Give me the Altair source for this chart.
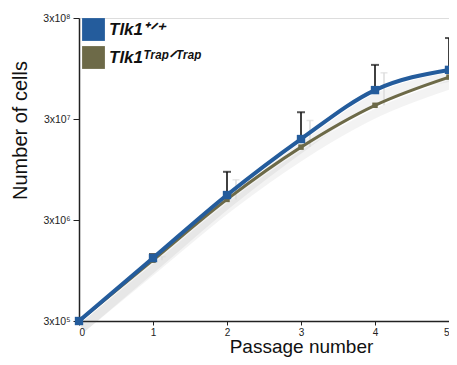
import altair as alt
import pandas as pd

passage = [0, 1, 2, 3, 4, 5]
wt_cells = [3.0e5, 1.26e6, 5.3e6, 1.9e7, 5.8e7, 9.2e7]
wt_err_top = [3.0e5, 1.38e6, 9.0e6, 3.5e7, 1.03e8, 1.9e8]
trap_cells = [3.0e5, 1.2e6, 4.8e6, 1.58e7, 4.1e7, 7.8e7]
trap_err_top = [3.0e5, 1.3e6, 7.5e6, 2.9e7, 8.6e7, 1.7e8]

wt_label = "Tlk1⁺ᐟ⁺"
trap_label = "Tlk1ᵀʳᵃᵖᐟᵀʳᵃᵖ"
series_labels = [wt_label, trap_label]
series_colors = ["#245c9c", "#6d6a48"]

y_ticks = [3e5, 3e6, 3e7, 3e8]
y_tick_labels = ["3x10⁵", "3x10⁶", "3x10⁷", "3x10⁸"]

rows = []
for p, c, e in zip(passage, wt_cells, wt_err_top):
    rows.append({"series": wt_label, "passage": p, "cells": c, "top": e})
for p, c, e in zip(passage, trap_cells, trap_err_top):
    rows.append({"series": trap_label, "passage": p, "cells": c, "top": e})
df = pd.DataFrame(rows)

FONT = "Liberation Sans"

conds = []
for v, t in zip(y_ticks, y_tick_labels):
    conds.append(f"abs(datum.value-{v:g})<{v*0.01:g} ? '{t}'")
label_expr = " : ".join(conds) + " : ''"

x_enc = alt.X("passage:Q",
              scale=alt.Scale(domain=[0, 5], nice=False, zero=False),
              axis=alt.Axis(values=passage, title="Passage number", grid=False,
                            format="d", labelFont=FONT, labelFontSize=10,
                            labelColor="#222", tickColor="#222", tickSize=4,
                            domainColor="#222", domainWidth=1.5,
                            titleFont=FONT, titleFontSize=19,
                            titleFontWeight="normal", titleColor="#111",
                            titlePadding=0, titleX=222, labelPadding=2))
y_scale = alt.Scale(type="log", domain=[3e5, 3e8], nice=False)
y_enc = alt.Y("cells:Q", scale=y_scale,
              axis=alt.Axis(values=y_ticks, labelExpr=label_expr,
                            title="Number of cells", grid=False,
                            labelFont=FONT, labelFontSize=10.5, labelColor="#222",
                            tickColor="#222", tickSize=6, domainColor="#222",
                            domainWidth=1.5, titleFont=FONT, titleFontSize=20,
                            titleFontWeight="normal", titleColor="#111",
                            titlePadding=12, titleY=112, labelPadding=3))

color_enc = alt.Color("series:N",
                      scale=alt.Scale(domain=series_labels, range=series_colors),
                      legend=alt.Legend(title=None, orient="none", legendX=3,
                                        legendY=0, symbolType="square",
                                        symbolSize=520, symbolStrokeWidth=0,
                                        symbolOpacity=1,
                                        labelFont=FONT, labelFontSize=17,
                                        labelFontStyle="italic",
                                        labelFontWeight="bold",
                                        labelColor="#111", rowPadding=5,
                                        labelOffset=4, padding=0))

base = alt.Chart(df)

shadow = base.mark_line(interpolate="monotone", strokeWidth=9, opacity=0.07,
                        xOffset=3, yOffset=7, color="#555").encode(
    x=x_enc, y=y_enc, detail="series:N")

faint = base.transform_filter(alt.datum.series == trap_label).transform_filter(
    alt.datum.passage > 0).mark_rule(color="#dddddd", strokeWidth=1.5, xOffset=9).encode(
    x="passage:Q", y="cells:Q", y2="top:Q")
faint_cap = base.transform_filter(alt.datum.series == trap_label).transform_filter(
    alt.datum.passage > 0).mark_tick(color="#dddddd", orient="horizontal", size=7,
                                     thickness=1.5, xOffset=9).encode(
    x="passage:Q", y="top:Q")

err = base.transform_filter(alt.datum.series == wt_label).transform_filter(
    alt.datum.passage > 0).mark_rule(color="#111", strokeWidth=1.6).encode(
    x="passage:Q", y="cells:Q", y2="top:Q")
err_cap = base.transform_filter(alt.datum.series == wt_label).transform_filter(
    alt.datum.passage > 0).mark_tick(color="#111", orient="horizontal", size=8,
                                     thickness=2).encode(
    x="passage:Q", y="top:Q")

trap_line = base.transform_filter(alt.datum.series == trap_label).mark_line(
    interpolate="monotone", strokeWidth=3).encode(x=x_enc, y=y_enc, color=color_enc)
wt_line = base.transform_filter(alt.datum.series == wt_label).mark_line(
    interpolate="monotone", strokeWidth=4).encode(x=x_enc, y=y_enc, color=color_enc)

trap_pts = base.transform_filter(alt.datum.series == trap_label).mark_square(
    size=30, opacity=1).encode(x=x_enc, y=y_enc, color=color_enc)
wt_pts = base.transform_filter(alt.datum.series == wt_label).mark_square(
    size=70, opacity=1).encode(x=x_enc, y=y_enc, color=color_enc)

chart = alt.layer(shadow, faint, faint_cap, err, err_cap, trap_line, wt_line,
                  trap_pts, wt_pts).properties(
    width=370, height=303,
    autosize=alt.AutoSizeParams(type="none"),
    padding={"left": 71, "top": 10, "right": 0, "bottom": 36},
).configure_view(stroke=None).configure(background="white")

chart.save("out.html", embed_options={"renderer": "svg", "actions": False})
